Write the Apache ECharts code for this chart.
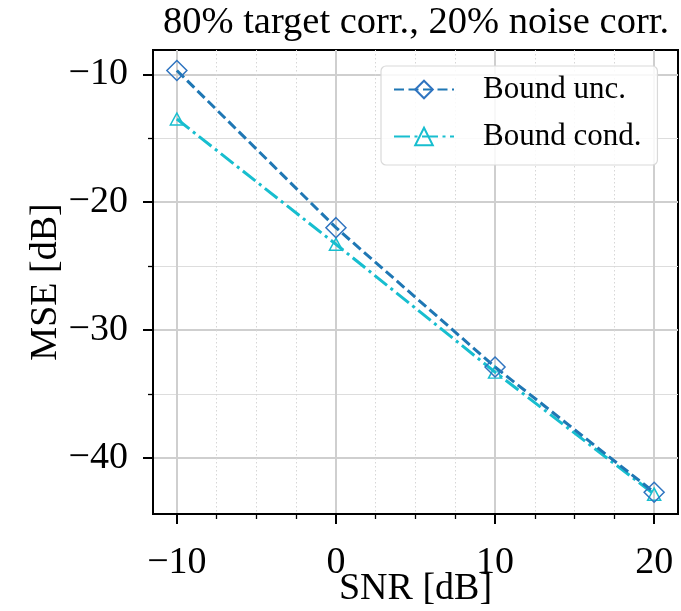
<!DOCTYPE html>
<html>
<head>
<meta charset="utf-8">
<script src="https://cdn.jsdelivr.net/npm/echarts@6/dist/echarts.min.js"></script>
<style>
html,body{margin:0;padding:0;background:#fff;}
#chart{width:681px;height:611px;}
</style>
</head>
<body>
<div id="chart"></div>
<script>
const snr = [-10, 0, 10, 20];
const boundUnc = [-9.7, -22.0, -32.9, -42.7];
const boundCond = [-13.5, -23.3, -33.3, -42.85];
const xTicks = [-10, 0, 10, 20];
const yTicks = [-40, -30, -20, -10];
const seriesNames = ['Bound unc.', 'Bound cond.'];
const titleText = '80% target corr., 20% noise corr.';

const FONT = '"Liberation Serif", "DejaVu Serif", serif';
const chart = echarts.init(document.getElementById('chart'), null, {renderer: 'canvas'});

function pairs(xs, ys) { return xs.map((x, i) => [x, ys[i]]); }
function fmtMinus(v) { return v < 0 ? '\u2212' + Math.abs(v) : String(v); }

const option = {
  backgroundColor: '#fff',
  animation: false,
  title: {
    text: titleText,
    left: 416, top: 3, textAlign: 'center', padding: 0,
    textStyle: {fontFamily: FONT, fontSize: 38.5, fontWeight: 'normal', color: '#000'}
  },
  grid: {
    left: 153, right: 3, top: 50, bottom: 97,
    outerBoundsMode: 'none', containLabel: false,
    show: true, borderColor: '#000', borderWidth: 2, backgroundColor: 'transparent'
  },
  legend: {
    left: 381, top: 66, orient: 'vertical',
    padding: [8, 16, 13, 12],
    itemWidth: 60, itemHeight: 22, itemGap: 16,
    backgroundColor: 'rgba(255,255,255,0.85)',
    borderColor: '#d9d9d9', borderWidth: 1.2, borderRadius: 5,
    textStyle: {fontFamily: FONT, fontSize: 31, color: '#000', padding: [0, 0, 0, 24]},
    data: seriesNames
  },
  xAxis: {
    type: 'value', min: -11.5, max: 21.5, splitNumber: 3,
    name: 'SNR [dB]', nameLocation: 'middle', nameGap: 56, nameMoveOverlap: false,
    nameTextStyle: {fontFamily: FONT, fontSize: 38, color: '#000'},
    axisLine: {show: true, onZero: false, lineStyle: {color: '#000', width: 2}},
    axisTick: {show: true, inside: false, length: 10, customValues: xTicks, lineStyle: {color: '#000', width: 2}},
    minorTick: {show: true, splitNumber: 4, length: 5, lineStyle: {color: '#000', width: 1.3}},
    axisLabel: {customValues: xTicks, margin: 30, fontFamily: FONT, fontSize: 38, color: '#000', formatter: fmtMinus},
    splitLine: {show: true, lineStyle: {color: '#cfcfcf', width: 2}},
    minorSplitLine: {show: true, lineStyle: {color: '#d6d6d6', width: 1, type: [1.5, 2.5]}}
  },
  yAxis: {
    type: 'value', min: -44.4, max: -8.1, splitNumber: 3,
    name: 'MSE [dB]', nameLocation: 'middle', nameGap: 88, nameMoveOverlap: false,
    nameTextStyle: {fontFamily: FONT, fontSize: 38, color: '#000'},
    axisLine: {show: true, onZero: false, lineStyle: {color: '#000', width: 2}},
    axisTick: {show: true, inside: false, length: 10, customValues: yTicks, lineStyle: {color: '#000', width: 2}},
    minorTick: {show: true, splitNumber: 2, length: 5, lineStyle: {color: '#000', width: 1.3}},
    axisLabel: {customValues: yTicks, margin: 25, fontFamily: FONT, fontSize: 38, color: '#000', formatter: fmtMinus},
    splitLine: {show: true, lineStyle: {color: '#cfcfcf', width: 2}},
    minorSplitLine: {show: true, lineStyle: {color: '#dddddd', width: 1.2}}
  },
  series: [
    {
      name: seriesNames[0], type: 'line', data: pairs(snr, boundUnc),
      symbol: 'diamond', symbolSize: 20, showSymbol: true,
      color: '#1f77b4',
      lineStyle: {color: '#1f77b4', width: 3, type: [10, 4.5], cap: 'butt'},
      itemStyle: {color: 'rgba(255,255,255,0)', borderColor: '#2f74c0', borderWidth: 1.5},
      emphasis: {disabled: true}, z: 3
    },
    {
      name: seriesNames[1], type: 'line', data: pairs(snr, boundCond),
      symbol: 'triangle', symbolSize: [13, 12], showSymbol: true,
      color: '#17becf',
      lineStyle: {color: '#17becf', width: 3, type: [16, 4.5, 3, 4.5], cap: 'butt'},
      itemStyle: {color: 'rgba(255,255,255,0)', borderColor: '#17becf', borderWidth: 1.5},
      emphasis: {disabled: true}, z: 2
    }
  ]
};
chart.setOption(option);
</script>
</body>
</html>
